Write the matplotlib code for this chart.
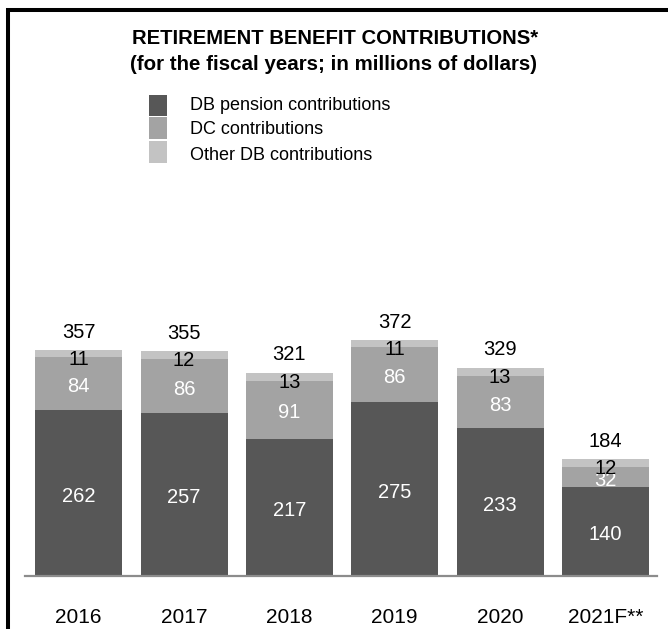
import numpy as np
import matplotlib.pyplot as plt
from matplotlib.lines import Line2D
from matplotlib.patches import Rectangle

# data
years = ['2016', '2017', '2018', '2019', '2020', '2021F**']
db_pension = [262, 257, 217, 275, 233, 140]
dc_contrib = [84, 86, 91, 86, 83, 32]
other_db = [11, 12, 13, 11, 13, 12]
totals = [357, 355, 321, 372, 329, 184]
series_names = ['DB pension contributions', 'DC contributions', 'Other DB contributions']
colors = ['#575757', '#a3a3a3', '#c3c3c3']

plt.rcParams['font.family'] = ['Liberation Sans', 'DejaVu Sans']

W, H = 668, 629
fig = plt.figure(figsize=(W / 100, H / 100), dpi=100)
ax = fig.add_axes([25 / W, 53 / H, 632 / W, 380 / H])

x = np.arange(len(years))
w = 0.825
db = np.array(db_pension)
dc = np.array(dc_contrib)
ot = np.array(other_db)

ax.bar(x, db, w, color=colors[0])
ax.bar(x, dc, w, bottom=db, color=colors[1])
ax.bar(x, ot, w, bottom=db + dc, color=colors[2])

# value labels
for i in range(len(years)):
    ax.text(x[i], db[i] / 2 - 5, str(db[i]), ha='center', va='center', color='white', fontsize=14.5)
    ax.text(x[i], db[i] + dc[i] / 2 - 5, str(dc[i]), ha='center', va='center', color='white', fontsize=14.5)
    ax.text(x[i], db[i] + dc[i] + ot[i] - 15, str(ot[i]), ha='center', va='center', color='black', fontsize=14.5)
    ax.text(x[i], totals[i] + 28, str(totals[i]), ha='center', va='center', color='black', fontsize=14.5)

ax.set_xlim(-0.51, 5.49)
ax.set_ylim(0, 600)
for s in ['left', 'right', 'top']:
    ax.spines[s].set_visible(False)
ax.spines['bottom'].set_color('#8c8c8c')
ax.spines['bottom'].set_linewidth(1.6)
ax.set_xticks(x, years)
ax.set_yticks([])
ax.tick_params(axis='x', length=0, pad=23, labelsize=15)

# title
fig.text(0.5015, 1 - 39 / H, 'RETIREMENT BENEFIT CONTRIBUTIONS*', ha='center', va='center',
         fontsize=14.6, fontweight='bold')
fig.text(0.5, 1 - 64 / H, '(for the fiscal years; in millions of dollars)', ha='center', va='center',
         fontsize=14.8, fontweight='bold')

# legend (stacked swatches like the original)
sw_top = [95, 117, 141]
sw_h = [20.5, 22, 22]
txt_y = [105, 130, 155]
for k in range(3):
    fig.patches.append(Rectangle((149 / W, 1 - (sw_top[k] + sw_h[k]) / H), 18 / W, sw_h[k] / H,
                                 transform=fig.transFigure, color=colors[k], lw=0))
    fig.text(190 / W, 1 - txt_y[k] / H, series_names[k], ha='left', va='center', fontsize=13)

# frame lines on left and top
fig.add_artist(Line2D([8 / W, 8 / W], [0, 1 - 8 / H], color='black', lw=2.9, solid_capstyle='butt'))
fig.add_artist(Line2D([6 / W, 1], [1 - 10 / H, 1 - 10 / H], color='black', lw=2.9, solid_capstyle='butt'))

fig.savefig('out.png', dpi=100)
